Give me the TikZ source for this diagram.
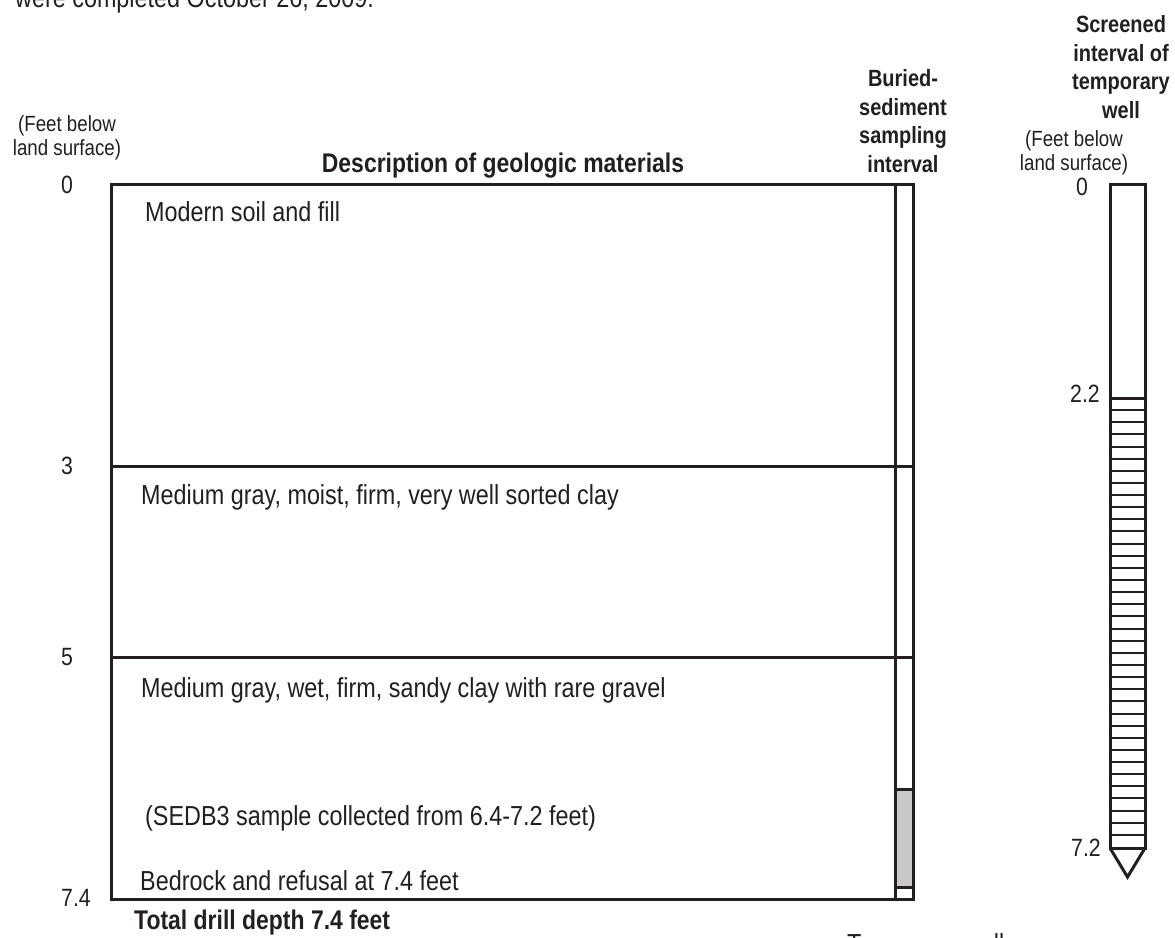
\documentclass[tikz,border=0pt]{standalone}
\usepackage{fontspec}
\setmainfont{Liberation Sans}[FakeStretch=0.85]
\definecolor{ink}{HTML}{231F20}
\definecolor{samp}{HTML}{C8C8C8}
\begin{document}
\begin{tikzpicture}[x=1pt,y=-1pt,
  every node/.style={inner sep=0pt, text=ink},
  body/.style={anchor=base west, font=\fontsize{27.5}{32}\selectfont},
  lbl/.style={align=center, font=\fontsize{22}{24}\selectfont},
  depth/.style={font=\fontsize{25}{28}\selectfont},
  hd/.style={align=center, font=\bfseries\fontsize{23.5}{28.5}\selectfont},
  bighd/.style={font=\bfseries\fontsize{27}{32}\selectfont},
  frame/.style={draw=ink, line width=3pt},
  thin/.style={draw=ink, line width=3pt},
  hatch/.style={draw=ink, line width=2pt}]
\useasboundingbox (0,0) rectangle (1175,937);

% clipped caption lines
\node[body] (cap) at (15,7) {were completed October 26, 2009.};
\node[body] (foot) at (847,953) {Temporary well};

% main box
\coordinate (tl) at (111,184);
\coordinate (br) at (913,899);
\coordinate (c3l) at (111,466);
\coordinate (c3r) at (913,466);
\coordinate (c5l) at (111,657);
\coordinate (c5r) at (913,657);
\coordinate (colt) at (895,184);
\coordinate (colb) at (895,899);
\draw[fill=samp, line width=3pt, draw=ink] (895,789) rectangle (913,887);
\draw[frame] (tl) rectangle (br);
\draw[frame] (colt) -- (colb);
\draw[frame] (c3l) -- (c3r);
\draw[frame] (c5l) -- (c5r);

% depth labels left
\node[lbl] (unitl) at (67,138) {(Feet below\\land surface)};
\node[depth] (d0) at (67,185) {0};
\node[depth] (d3) at (67,466) {3};
\node[depth] (d5) at (67,657) {5};
\node[depth] (d74) at (76,898) {7.4};

% headings
\node[bighd] (desc) at (503,166) {Description of geologic materials};
\node[hd] (bur) at (903,121) {Buried-\\sediment\\sampling\\interval};
\node[hd] (scr) at (1121,67) {Screened\\interval of\\temporary\\well};

% descriptions
\node[body] (t1) at (145,221) {Modern soil and fill};
\node[body] (t2) at (141,504) {Medium gray, moist, firm, very well sorted clay};
\node[body] (t3) at (141,697) {Medium gray, wet, firm, sandy clay with rare gravel};
\node[body] (t4) at (145,825) {(SEDB3 sample collected from 6.4-7.2 feet)};
\node[body] (t5) at (140,890) {Bedrock and refusal at 7.4 feet};
\node[bighd, anchor=base west] (tot) at (134,929) {Total drill depth 7.4 feet};

% temporary well
\node[lbl] (unitr) at (1074,153) {(Feet below\\land surface)};
\node[depth] (w0) at (1082,187) {0};
\node[depth] (w22) at (1085,394) {2.2};
\node[depth] (w72) at (1086,848) {7.2};
\coordinate (wtl) at (1110,184);
\coordinate (wbr) at (1145,848);
\coordinate (tip) at (1127.5,877);
\foreach \k in {1,...,36}{
  \pgfmathsetmacro{\yy}{round(398+\k*12.135)}
  \draw[hatch] (1110,\yy) -- (1145,\yy);
}
\draw[line width=3pt, draw=ink] (1110,398) -- (1145,398);
\draw[thin, line join=miter] (wtl) rectangle (wbr);
\draw[thin, line join=miter] (1110,848) -- (tip) -- (1145,848);
\end{tikzpicture}
\end{document}
